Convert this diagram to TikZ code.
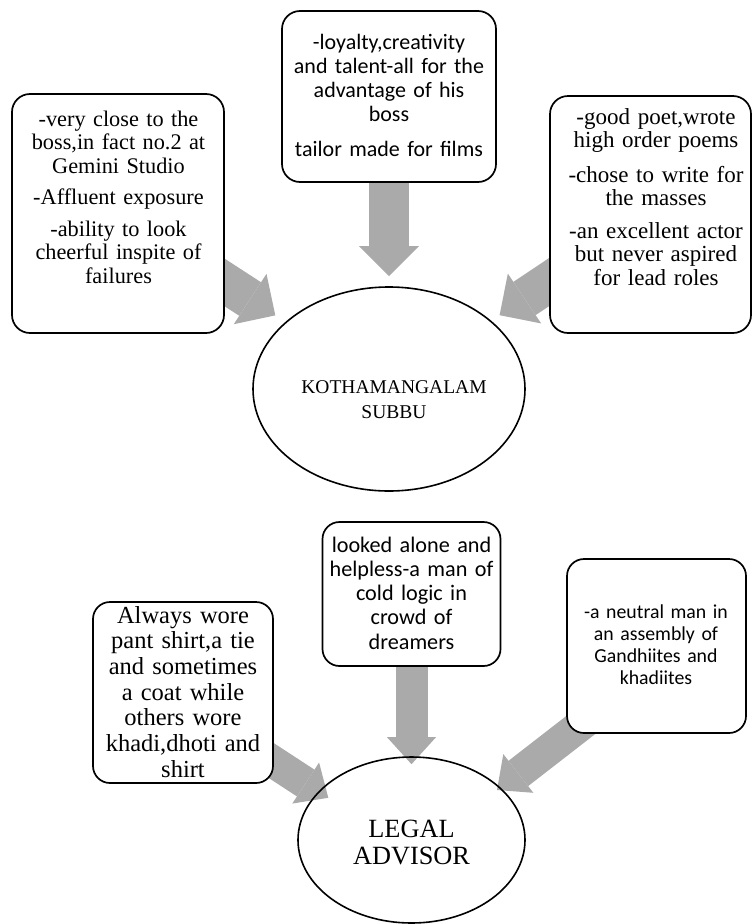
\documentclass[tikz,border=0pt]{standalone}
\usepackage{fontspec}
\newfontfamily\timesface{Liberation Serif}
\newfontfamily\calibriface{Carlito}
\usetikzlibrary{shapes.geometric, arrows.meta}

\pgfdeclarelayer{under}
\pgfsetlayers{under,main}

\definecolor{arrowgray}{RGB}{170,170,170}

\begin{document}
\begin{tikzpicture}[x=1pt, y=-1pt,
  panel/.style={draw, line width=1.7pt, fill=white, rounded corners=18pt, inner sep=0pt},
  smallpanel/.style={panel, rounded corners=17pt},
  oval/.style={draw, ellipse, line width=1.6pt, inner sep=0pt},
  label/.style={inner sep=0pt, anchor=base, text width=260pt, align=center},
  serif/.style n args={2}{label, font=\timesface\fontsize{#1}{#2}\selectfont},
  sans/.style n args={2}{label, font=\calibriface\fontsize{#1}{#2}\selectfont},
  bigarrow/.style={line width=40pt, draw=arrowgray,
    -{Triangle[width=60pt, length=30pt, line width=0pt]}},
  smallarrow/.style={line width=32pt, draw=arrowgray,
    -{Triangle[width=49pt, length=27pt, line width=0pt]}}
]
\useasboundingbox (0,0) rectangle (753,924);

% ---------- Kothamangalam Subbu ----------
\node[panel, minimum width=212pt, minimum height=239pt] (L1) at (118,213.5) {};
\node[panel, minimum width=214pt, minimum height=171pt] (T) at (389,96.5) {};
\node[panel, minimum width=201pt, minimum height=237pt] (R1) at (650.5,214.5) {};
\node[oval, minimum width=272pt, minimum height=204pt] (K) at (389,389) {};

\node[serif={22.3}{23.5}] (L1t) at (118.5,126)
  {-very close to the\\boss,in fact no.2 at\\Gemini Studio\\[7.5pt]-Affluent exposure\\[8.5pt]-ability to look\\cheerful inspite of\\failures};
\node[sans={22}{24}] (Tt) at (389,49)
  {-loyalty,creativity\\and talent-all for the\\advantage of his\\boss\\[11pt]tailor made for films};
\node[serif={23}{23.5}] (R1t) at (656,124)
  {-good poet,wrote\\high order poems\\[11pt]-chose to write for\\the masses\\[9pt]-an excellent actor\\but never aspired\\for lead roles};
\node[serif={19.5}{25}] (Kt) at (394,393) {KOTHAMANGALAM\\SUBBU};

% ---------- Legal advisor ----------
\node[smallpanel, minimum width=180pt, minimum height=181pt] (L2) at (183,692.5) {};
\node[smallpanel, minimum width=178pt, minimum height=144pt] (M2) at (411.5,594) {};
\node[smallpanel, minimum width=179pt, minimum height=174pt] (R2) at (656.5,646) {};
\node[oval, minimum width=227pt, minimum height=166pt] (E2) at (411.5,840) {};

\node[serif={24.5}{25.7}] (L2t) at (183,623)
  {Always wore\\pant shirt,a tie\\and sometimes\\a coat while\\others wore\\khadi,dhoti and\\shirt};
\node[sans={22.2}{24.3}] (M2t) at (411.5,552)
  {looked alone and\\helpless-a man of\\cold logic in\\crowd of\\dreamers};
\node[sans={19.8}{22.3}] (R2t) at (656,618)
  {-a neutral man in\\an assembly of\\Gandhiites and\\khadiites};
\node[serif={26.3}{27}] (E2t) at (411.5,837) {LEGAL\\ADVISOR};

% ---------- block arrows, beneath the boxes ----------
\begin{pgfonlayer}{under}
\fill[white] (0,0) rectangle (753,924);
\draw[bigarrow, shorten <=-30pt, shorten >=12pt] (L1) -- (K);
\draw[bigarrow, shorten <=-4pt, shorten >=10pt] (T) -- (K);
\draw[bigarrow, shorten <=-30pt, shorten >=10pt] (R1) -- (K);
\draw[smallarrow] ([shift={(40,36.5)}]L2.center) -- ([shift={(-83.2,-42.2)}]E2.center);
\draw[smallarrow, shorten <=-4pt, shorten >=-8pt] (M2) -- (E2);
\draw[smallarrow] ([shift={(-56.8,64.3)}]R2.center) -- ([shift={(85.5,-50)}]E2.center);
\end{pgfonlayer}
\end{tikzpicture}
\end{document}
